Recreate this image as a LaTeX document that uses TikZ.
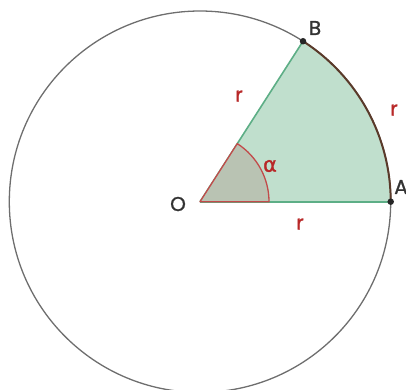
\documentclass[tikz,border=0pt]{standalone}
\usepackage{fontspec}
\usetikzlibrary{calc}
\setmainfont{Poppins}[FakeBold=1.2]
\newfontfamily\greekfont{DejaVu Sans}[FakeBold=1.2]
\definecolor{circgray}{HTML}{6E6E6E}
\definecolor{secfill}{HTML}{C0DFCD}
\definecolor{secline}{HTML}{5DAE86}
\definecolor{wedgefill}{HTML}{B9C3B3}
\definecolor{wedgeline}{HTML}{C24A4A}
\definecolor{arcbrown}{HTML}{5A3A2A}
\definecolor{lblred}{HTML}{B82828}
\definecolor{lblgray}{HTML}{333333}
\begin{document}
\begin{tikzpicture}[x=1pt,y=1pt,
  dot/.style={circle,fill=black!85,inner sep=0pt,minimum size=6.5pt},
  ptlabel/.style={text=lblgray,font=\fontsize{20}{20}\selectfont,inner sep=0pt},
  rlabel/.style={text=lblred,font=\fontsize{20}{20}\selectfont,inner sep=0pt}]
\useasboundingbox (0,-389) rectangle (406,0);
\def\R{190.7}
\def\ang{57.3}
\def\w{69}
\coordinate (O) at (200,-201.7);
\coordinate (Ap) at ($(O)+(0:\R)$);
\coordinate (Bp) at ($(O)+(\ang:\R)$);
% full circle
\draw[circgray,line width=1.3pt] (O) circle[radius=\R];
% sector
\fill[secfill] (O) -- (Ap) arc[start angle=0,end angle=\ang,radius=\R] -- cycle;
\draw[secline,line width=1.6pt] (O) -- (Ap);
\draw[secline,line width=1.6pt] (O) -- (Bp);
\draw[arcbrown,line width=2pt] (Ap) arc[start angle=0,end angle=\ang,radius=\R];
% angle wedge
\filldraw[fill=wedgefill,draw=wedgeline,line width=1.3pt,line join=round] (O) -- ++(0:\w) arc[start angle=0,end angle=\ang,radius=\w] -- cycle;
% points
\node[dot] (A) at (Ap) {};
\node[dot] (B) at (Bp) {};
% labels
\node[ptlabel] (lO) at (178,-204) {O};
\node[ptlabel] (lB) at (315,-28) {B};
\node[ptlabel] (lA) at (401,-187) {A};
\node[rlabel] (r1) at (239,-96) {r};
\node[rlabel] (r2) at (394,-110) {r};
\node[rlabel] (r3) at (300,-224) {r};
\node[text=lblred,font=\greekfont\fontsize{21}{21}\selectfont,inner sep=0pt] (al) at (270,-166) {α};
\end{tikzpicture}
\end{document}
